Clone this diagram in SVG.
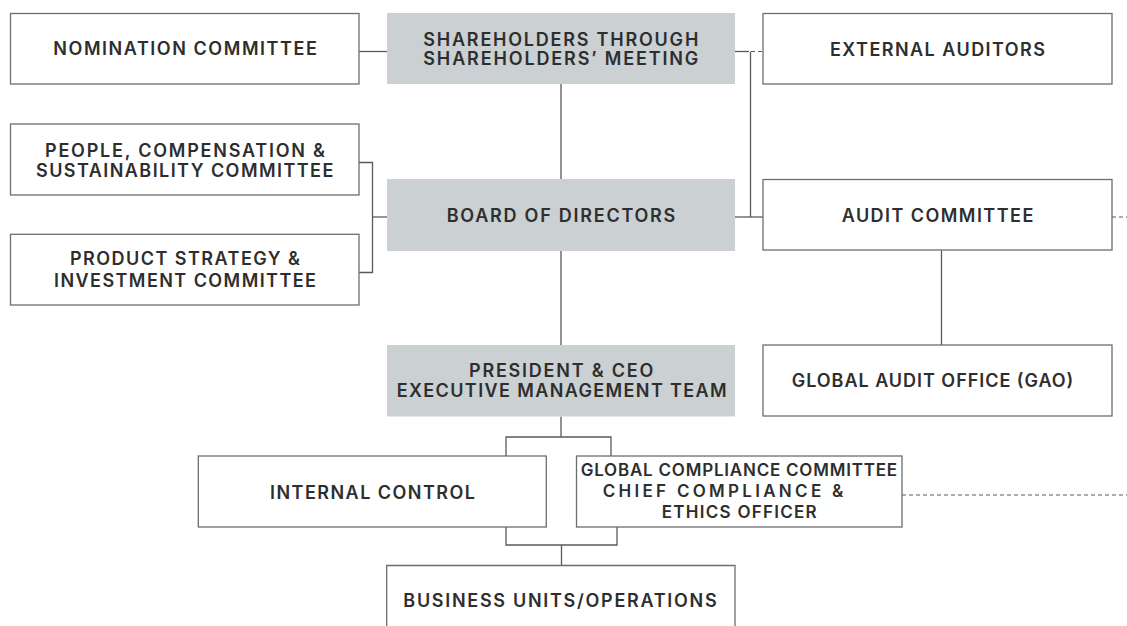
<svg xmlns="http://www.w3.org/2000/svg" width="1127" height="626" viewBox="0 0 1127 626">
<style>
.box{fill:#ffffff;stroke:#6e6e6e;stroke-width:1.3}
.gbox{fill:#cbd0d3;stroke:none}
.t{font-family:Inter,"Liberation Sans",Arial,sans-serif;font-weight:600;font-size:18px;fill:#2e2e2e}
.s{font-size:17px}
.ln{fill:none;stroke:#5a5a5a;stroke-width:1.3}
.dash{fill:none;stroke:#5a5a5a;stroke-width:1.2;stroke-dasharray:4 3}
</style>
<rect width="1127" height="626" fill="#ffffff"/>
<g id="connectors">
<path class="ln" d="M359,51.5 H387"/>
<path class="ln" d="M735,51.5 H749"/>
<path class="dash" d="M751,51.5 H763"/>
<path class="ln" d="M750.5,51.5 V217"/>
<path class="ln" d="M561,84 V179"/>
<path class="ln" d="M735,217 H763"/>
<path class="dash" d="M1112,217 H1127"/>
<path class="ln" d="M941.5,250.5 V345"/>
<path class="ln" d="M561,251 V345"/>
<path class="ln" d="M359,162.5 H372.5 V272.5 H359"/>
<path class="ln" d="M372.5,217 H387"/>
<path class="ln" d="M561,416.5 V437"/>
<path class="ln" d="M506,456 V437 H611 V456"/>
<path class="ln" d="M506,527 V545 H617 V527"/>
<path class="ln" d="M561.5,545 V565"/>
<path class="dash" d="M902,495 H1127"/>
</g>
<g id="nomination">
<rect class="box" x="10.5" y="13.5" width="348.5" height="70.5"/>
<text class="t" x="53.3" y="55" textLength="263.5" lengthAdjust="spacing">NOMINATION COMMITTEE</text>
</g>
<g id="shareholders">
<rect class="gbox" x="387" y="13" width="348" height="71"/>
<text class="t" x="423.3" y="45.7" textLength="275" lengthAdjust="spacing">SHAREHOLDERS THROUGH</text>
<text class="t" x="423.3" y="65" textLength="275" lengthAdjust="spacing">SHAREHOLDERS’ MEETING</text>
</g>
<g id="external-auditors">
<rect class="box" x="763" y="13.5" width="349" height="70.5"/>
<text class="t" x="830" y="55.5" textLength="215" lengthAdjust="spacing">EXTERNAL AUDITORS</text>
</g>
<g id="people-committee">
<rect class="box" x="10.5" y="124" width="348.5" height="71"/>
<text class="t" x="45" y="156.7" textLength="280" lengthAdjust="spacing">PEOPLE, COMPENSATION &amp;</text>
<text class="t" x="36" y="177.3" textLength="297.3" lengthAdjust="spacing">SUSTAINABILITY COMMITTEE</text>
</g>
<g id="product-committee">
<rect class="box" x="10.5" y="234.3" width="348.5" height="70.7"/>
<text class="t" x="70" y="265" textLength="230" lengthAdjust="spacing">PRODUCT STRATEGY &amp;</text>
<text class="t" x="54" y="286.7" textLength="262" lengthAdjust="spacing">INVESTMENT COMMITTEE</text>
</g>
<g id="board">
<rect class="gbox" x="387" y="179" width="348" height="72"/>
<text class="t" x="446.7" y="222" textLength="228.6" lengthAdjust="spacing">BOARD OF DIRECTORS</text>
</g>
<g id="audit-committee">
<rect class="box" x="763" y="179.5" width="349" height="70.5"/>
<text class="t" x="841.7" y="221.5" textLength="191.6" lengthAdjust="spacing">AUDIT COMMITTEE</text>
</g>
<g id="gao">
<rect class="box" x="763" y="345" width="349" height="71"/>
<text class="t" x="791.7" y="386.7" textLength="281.6" lengthAdjust="spacing">GLOBAL AUDIT OFFICE (GAO)</text>
</g>
<g id="president">
<rect class="gbox" x="387" y="345" width="348" height="71.5"/>
<text class="t" x="469" y="376.7" textLength="184.3" lengthAdjust="spacing">PRESIDENT &amp; CEO</text>
<text class="t" x="396.7" y="397.3" textLength="330" lengthAdjust="spacing">EXECUTIVE MANAGEMENT TEAM</text>
</g>
<g id="internal-control">
<rect class="box" x="198.3" y="456" width="348" height="71"/>
<text class="t" x="270" y="499.3" textLength="205" lengthAdjust="spacing">INTERNAL CONTROL</text>
</g>
<g id="compliance">
<rect class="box" x="576.5" y="456" width="325.5" height="71"/>
<text class="t s" x="580.7" y="476" textLength="316.3" lengthAdjust="spacing">GLOBAL COMPLIANCE COMMITTEE</text>
<text class="t s" x="602.7" y="497" textLength="240.6" lengthAdjust="spacing">CHIEF COMPLIANCE &amp;</text>
<text class="t s" x="661.7" y="518" textLength="155" lengthAdjust="spacing">ETHICS OFFICER</text>
</g>
<g id="business-units">
<path class="box" d="M386.7,632 V565.5 H735 V632"/>
<text class="t" x="403.3" y="606.7" textLength="313.3" lengthAdjust="spacing">BUSINESS UNITS/OPERATIONS</text>
</g>
</svg>
